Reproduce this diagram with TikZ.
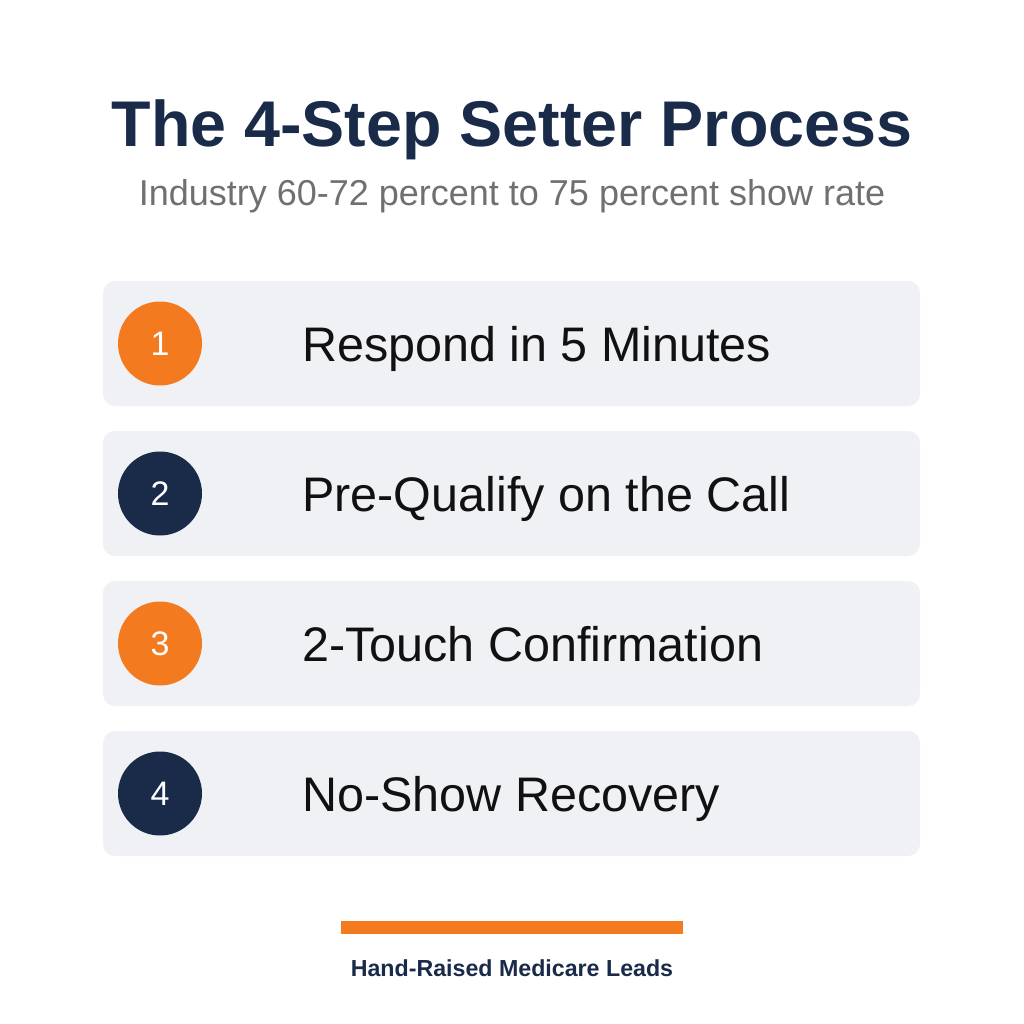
\documentclass[tikz,border=0pt]{standalone}
\usepackage{fontspec}
\setmainfont{Liberation Sans}
\definecolor{navy}{HTML}{1A2B4A}
\definecolor{orng}{HTML}{F47A20}
\definecolor{boxbg}{HTML}{F0F1F5}
\definecolor{subgray}{HTML}{707070}
\definecolor{txt}{HTML}{111111}
\begin{document}
\begin{tikzpicture}[x=1pt,y=-1pt,
  stepbox/.style={fill=boxbg,rounded corners=12pt,draw=none},
  numcirc/.style={circle,minimum size=84pt,inner sep=0pt,text=white,font=\fontsize{34}{38}\selectfont},
  steptext/.style={anchor=base west,text=txt,inner sep=0pt,font=\fontsize{48.5}{52}\selectfont}]
\useasboundingbox[fill=white] (0,0) rectangle (1024,1024);
\node[anchor=base,text=navy,inner sep=0pt,font=\fontsize{64.6}{70}\selectfont\bfseries] (title) at (512,147) {The 4-Step Setter Process};
\node[anchor=base,text=subgray,inner sep=0pt,font=\fontsize{36}{40}\selectfont] (sub) at (512,206) {Industry 60-72 percent to 75 percent show rate};
\foreach \i/\c/\t in {1/orng/Respond in 5 Minutes,2/navy/Pre-Qualify on the Call,3/orng/2-Touch Confirmation,4/navy/No-Show Recovery}{
  \pgfmathsetmacro{\yt}{281+150*(\i-1)}
  \fill[stepbox] (103,\yt) rectangle (920,\yt+125);
  \node[numcirc,fill=\c] (n\i) at (160,\yt+62.5) {\i};
  \node[steptext] (t\i) at (302,\yt+80) {\t};
}
\fill[orng] (341,921) rectangle (683,934);
\node[anchor=base,text=navy,inner sep=0pt,font=\fontsize{23.2}{26}\selectfont\bfseries] (foot) at (512,976) {Hand-Raised Medicare Leads};
\end{tikzpicture}
\end{document}
